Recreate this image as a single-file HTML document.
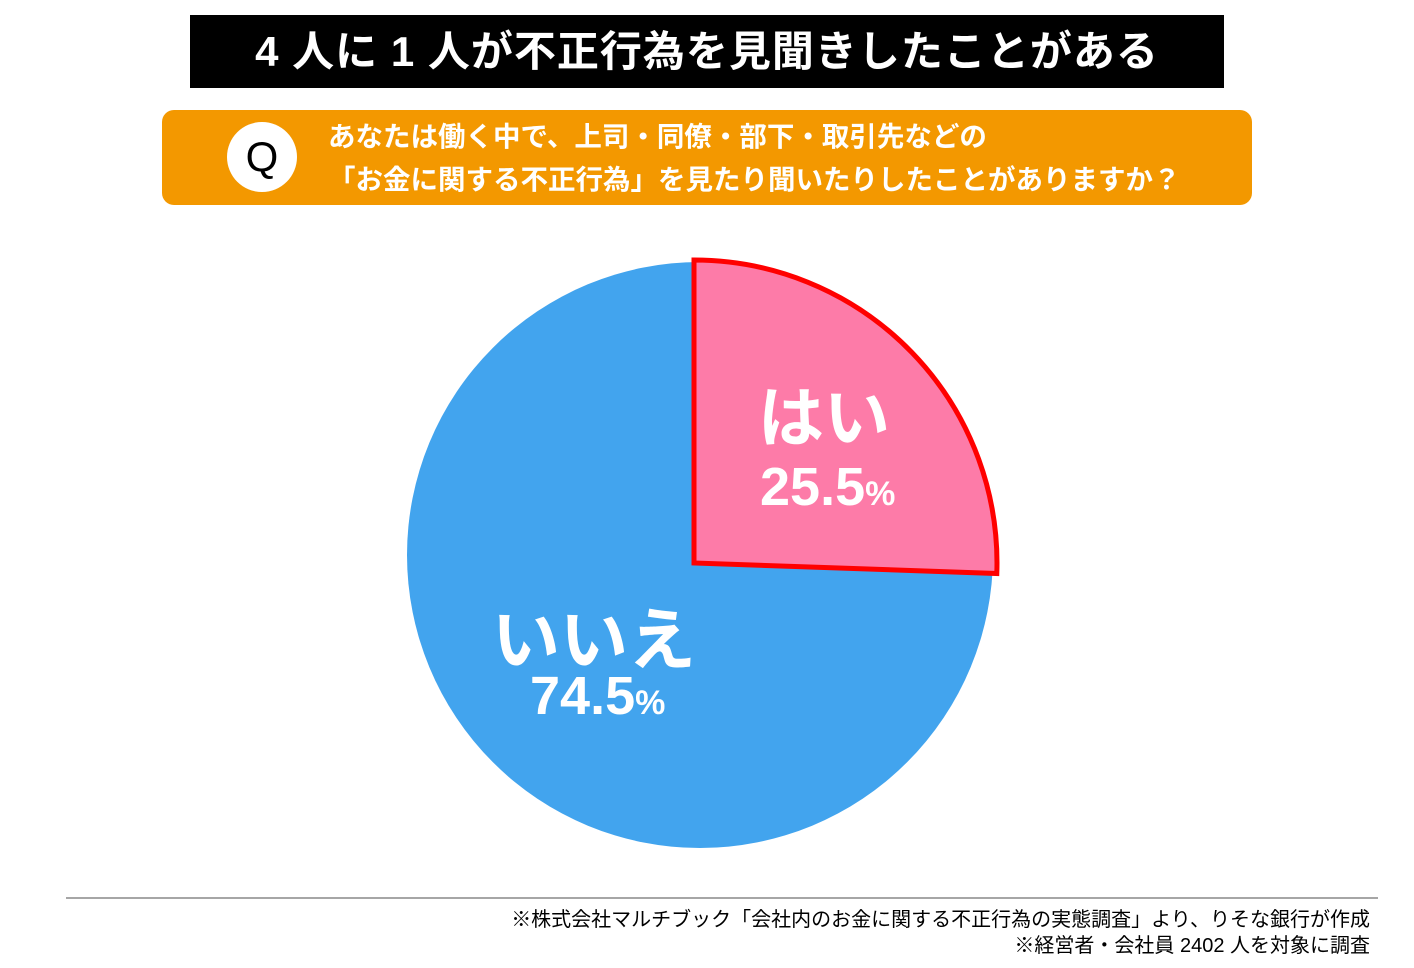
<!DOCTYPE html>
<html><head><meta charset="utf-8"><style>
body{margin:0;width:1414px;height:968px;background:#fff;position:relative;overflow:hidden;font-family:"Liberation Sans","Noto Sans CJK JP",sans-serif;}
.t{position:absolute;left:190px;top:15px;width:1034px;height:73px;background:#000;color:#fff;font-weight:bold;font-size:42px;line-height:73px;text-align:center;letter-spacing:1px}
.q{position:absolute;left:162px;top:110px;width:1090px;height:95px;background:#f39800;border-radius:12px}
.qc{position:absolute;left:227px;top:122px;width:70px;height:70px;border-radius:50%;background:#fff;color:#000;font-size:42px;line-height:70px;text-align:center}
.qt{position:absolute;left:328px;top:115px;color:#fff;font-weight:bold;font-size:27.5px;line-height:43px;white-space:nowrap}
.f{position:absolute;right:44px;color:#000;font-size:20px;white-space:nowrap}
.lab{position:absolute;color:#fff;font-weight:bold;white-space:nowrap}
</style></head><body>
<div class="t">4 人に 1 人が不正行為を見聞きしたことがある</div>
<div class="q"></div>
<div class="qc">Q</div>
<div class="qt">あなたは働く中で、上司・同僚・部下・取引先などの<br>「お金に関する不正行為」を見たり聞いたりしたことがありますか？</div>
<svg width="1414" height="968" style="position:absolute;left:0;top:0">
<circle cx="700" cy="555" r="293" fill="#42a4ee"/>
<path d="M694,563 L694,260 A303,303 0 0 1 996.8,573.5 Z" fill="#fd7ba8" stroke="#f00" stroke-width="5" stroke-linejoin="miter"/>
<line x1="66" y1="898" x2="1378" y2="898" stroke="#888" stroke-width="1.5"/>
</svg>
<div class="lab" style="left:758px;top:365px;font-size:66px">はい</div>
<div class="lab" style="left:760px;top:456px;font-size:54px">25.5<span style="font-size:34px">%</span></div>
<div class="lab" style="left:492px;top:585px;font-size:68px">いいえ</div>
<div class="lab" style="left:530px;top:665px;font-size:54px">74.5<span style="font-size:34px">%</span></div>
<div class="f" style="top:903px">※株式会社マルチブック「会社内のお金に関する不正行為の実態調査」より、りそな銀行が作成</div>
<div class="f" style="top:929px">※経営者・会社員 2402 人を対象に調査</div>
</body></html>
